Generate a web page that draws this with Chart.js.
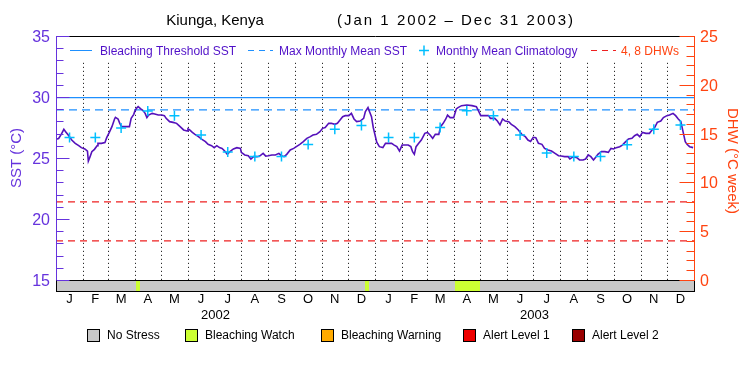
<!DOCTYPE html>
<html>
<head>
<meta charset="utf-8">
<title>Kiunga, Kenya - SST and DHW</title>
<script src="https://cdn.jsdelivr.net/npm/chart.js@4.4.1/dist/chart.umd.min.js"></script>
<style>
  html, body { margin: 0; padding: 0; background: #fff; }
  canvas { display: block; }
</style>
</head>
<body>
<canvas id="sstChart" width="750" height="375"></canvas>
<script>
// --- data ---
// day 0 = Jan 1 2002, day 730 = Jan 1 2004
const sstDays = [
  0, 3, 6, 9, 11, 14, 18, 22, 26, 29, 33, 36, 37, 39, 41, 44, 47, 48, 52, 56,
  58, 61, 64, 67, 68, 71, 73, 75, 79, 84, 86, 89, 90, 92, 94, 97, 99, 102, 104, 106,
  110, 113, 117, 121, 124, 126, 130, 134, 138, 142, 146, 150, 151, 153, 156, 159, 163, 167, 171, 174,
  178, 181, 184, 187, 190, 193, 196, 199, 203, 207, 211, 212, 216, 220, 223, 226, 230, 233, 237, 240,
  243, 247, 251, 255, 258, 261, 264, 268, 272, 275, 279, 283, 287, 291, 294, 298, 302, 305, 308, 312,
  315, 319, 322, 325, 328, 331, 335, 338, 341, 344, 348, 352, 354, 357, 359, 361, 363, 365, 367, 370,
  374, 377, 380, 384, 387, 390, 393, 396, 399, 403, 406, 408, 410, 412, 415, 418, 422, 425, 428, 431,
  434, 438, 440, 443, 446, 448, 451, 455, 458, 460, 464, 470, 476, 481, 483, 486, 491, 495, 497, 502,
  505, 508, 511, 514, 518, 521, 525, 529, 533, 537, 540, 543, 546, 549, 552, 556, 559, 563, 567, 571,
  575, 578, 582, 586, 588, 592, 596, 599, 603, 606, 609, 612, 615, 618, 620, 624, 628, 632, 635, 638,
  641, 645, 648, 651, 655, 659, 662, 665, 668, 671, 675, 679, 682, 685, 688, 692, 695, 699, 702, 706,
  709, 712, 715, 717, 720, 722, 725, 729
];
const sstValues = [
  26.53, 26.6, 26.94, 27.35, 27.16, 26.88, 26.47, 26.2, 26.01, 25.85, 25.74, 25.57, 24.75, 25.11, 25.52, 25.71, 26.01, 26.2, 26.2, 26.26,
  26.67, 27.1, 27.57, 28.2, 28.33, 28.2, 27.84, 27.57, 27.57, 27.57, 28.25, 28.58, 28.8, 29.07, 29.21, 29.02, 28.93, 28.66, 28.31, 28.52,
  28.66, 28.61, 28.52, 28.52, 28.47, 28.25, 27.98, 27.92, 27.84, 27.57, 27.3, 27.21, 27.38, 27.3, 27.1, 26.94, 26.75, 26.53, 26.34, 26.12,
  26.01, 25.85, 26.01, 25.85, 25.79, 25.57, 25.3, 25.52, 25.74, 25.85, 25.79, 25.46, 25.25, 25.19, 24.92, 25.11, 25.11, 25.16, 25.38, 25.16,
  25.19, 25.25, 25.25, 25.38, 25.19, 25.11, 25.3, 25.66, 25.79, 25.93, 26.12, 26.34, 26.61, 26.75, 26.88, 26.94, 27.16, 27.43, 27.49, 27.84,
  27.84, 27.76, 27.84, 28.11, 28.39, 28.47, 28.47, 28.66, 28.2, 27.98, 28.03, 28.25, 28.8, 29.13, 28.75, 28.39, 27.5, 26.9, 26.3, 25.93,
  25.85, 26.2, 26.2, 26.2, 26.06, 25.93, 25.57, 26.06, 26.06, 26.06, 25.93, 25.52, 25.3, 25.93, 26.2, 26.47, 27.02, 27.1, 26.88, 26.61,
  26.94, 26.94, 27.57, 27.84, 28.2, 28.52, 28.31, 28.31, 29.02, 29.13, 29.29, 29.34, 29.29, 29.21, 28.93, 28.47, 28.47, 28.47, 28.25, 28.25,
  28.03, 27.71, 28.2, 28.03, 27.98, 27.76, 27.57, 27.3, 26.94, 26.75, 26.47, 26.36, 26.7, 26.67, 26.2, 26.12, 25.79, 25.66, 25.57, 25.38,
  25.19, 25.16, 25.11, 25.11, 24.92, 25.11, 25.03, 24.84, 24.84, 24.92, 25.25, 25.11, 24.84, 25.11, 25.3, 25.52, 25.52, 25.46, 25.79, 25.74,
  25.85, 25.93, 26.06, 26.28, 26.56, 26.61, 26.83, 26.94, 26.75, 27.1, 27.02, 27.02, 27.3, 27.49, 27.92, 28.03, 28.31, 28.47, 28.52, 28.66,
  28.47, 28.2, 27.98, 27.3, 26.34, 26.12, 25.93, 25.85
];
// monthly mean climatology, Jan 2002 .. Dec 2003
const climValues = [
  26.68, 26.68, 27.45, 28.86, 28.47, 26.89, 25.5, 25.13, 25.13, 26.1, 27.35, 27.66,
  26.68, 26.68, 27.5, 28.88, 28.47, 26.89, 25.42, 25.12, 25.12, 26.08, 27.35, 27.7
];
const bleachingThreshold = 29.95;
const maxMonthlyMean = 28.95;
const dhwLevels = [4, 8];

const monthStartDays = [0, 31, 59, 90, 120, 151, 181, 212, 243, 273, 304, 334,
                        365, 396, 424, 455, 485, 516, 546, 577, 608, 638, 669, 699, 730];
const monthLetters = ['J', 'F', 'M', 'A', 'M', 'J', 'J', 'A', 'S', 'O', 'N', 'D'];
const yearLabels = ['2002', '2003'];

const stressNames = ['No Stress', 'Bleaching Watch', 'Bleaching Warning', 'Alert Level 1', 'Alert Level 2'];
const stressColors = ['#c8c8c8', '#ccff33', '#ffaa00', '#ee0000', '#990000'];
// [start day, end day, stress level index]
const stressPeriods = [[0, 730, 0], [92, 96, 1], [354, 358, 1], [456, 485, 1]];

// --- colours ---
const SST_AXIS = '#6633dd';
const SST_LINE = '#5511bb';
const DHW_AXIS = '#ff4411';
const BLUE = '#1e90ff';
const CYAN = '#00bfff';
const RED = '#ee2020';
const FONT = '"Liberation Sans", Arial, sans-serif';

const midMonth = monthStartDays.slice(0, -1).map((d, i) => (d + monthStartDays[i + 1]) / 2);

// --- decorations drawn with the chart scales ---
const chartDecor = {
  id: 'chartDecor',
  beforeDatasetsDraw(chart) {
    const { ctx, chartArea: a, scales: { x, y } } = chart;
    ctx.save();
    ctx.strokeStyle = '#000';
    ctx.lineWidth = 1;
    ctx.setLineDash([1, 3]);
    const top = y.getPixelForValue(32.8);
    monthStartDays.slice(1, -1).forEach(d => {
      const px = Math.round(x.getPixelForValue(d)) + 0.5;
      ctx.beginPath();
      ctx.moveTo(px, top);
      ctx.lineTo(px, a.bottom);
      ctx.stroke();
    });
    ctx.restore();
  },
  afterDraw(chart) {
    const { ctx, chartArea: a, scales: { x, y, y2 } } = chart;
    ctx.save();
    ctx.setLineDash([]);
    ctx.lineWidth = 1;

    const line = (x1, y1, x2, y2_) => {
      ctx.beginPath();
      ctx.moveTo(x1, y1);
      ctx.lineTo(x2, y2_);
      ctx.stroke();
    };

    // stress bar under the plot
    const barTop = Math.round(a.bottom);
    const barH = 11;
    stressPeriods.forEach(([d0, d1, lvl]) => {
      ctx.fillStyle = stressColors[lvl];
      const x0 = Math.round(x.getPixelForValue(d0));
      const x1 = Math.round(x.getPixelForValue(d1));
      ctx.fillRect(x0, barTop, x1 - x0, barH);
    });
    ctx.strokeStyle = '#000';
    ctx.strokeRect(Math.round(a.left) + 0.5, barTop + 0.5, Math.round(a.right - a.left), barH);

    // top border
    line(a.left, Math.round(a.top) + 0.5, a.right + 1, Math.round(a.top) + 0.5);

    // left axis (SST)
    ctx.strokeStyle = SST_AXIS;
    ctx.fillStyle = SST_AXIS;
    const lx = Math.round(a.left) + 0.5;
    line(lx, a.top, lx, a.bottom);
    ctx.font = '16px ' + FONT;
    ctx.textAlign = 'right';
    ctx.textBaseline = 'middle';
    for (let v = 15; v <= 35; v++) {
      const py = Math.round(y.getPixelForValue(v)) + 0.5;
      const major = v % 5 === 0;
      line(lx, py, lx + (major ? 13 : 7), py);
      if (major) ctx.fillText(String(v), a.left - 6, py + 1);
    }
    ctx.save();
    ctx.translate(17, 158);
    ctx.rotate(-Math.PI / 2);
    ctx.textAlign = 'center';
    ctx.font = '15px ' + FONT;
    ctx.fillText('SST (°C)', 0, 0);
    ctx.restore();

    // right axis (DHW)
    ctx.strokeStyle = DHW_AXIS;
    ctx.fillStyle = DHW_AXIS;
    const rx = Math.round(a.right) + 0.5;
    line(rx, a.top, rx, a.bottom + 1);
    ctx.textAlign = 'left';
    for (let v = 0; v <= 25; v++) {
      const py = Math.round(y2.getPixelForValue(v)) + 0.5;
      const major = v % 5 === 0;
      line(rx, py, rx - (major ? 15 : 8), py);
      if (major) ctx.fillText(String(v), a.right + 6, py + 1);
    }
    ctx.save();
    ctx.translate(732, 161);
    ctx.rotate(Math.PI / 2);
    ctx.textAlign = 'center';
    ctx.font = '15px ' + FONT;
    ctx.fillText('DHW (°C week)', 0, 0);
    ctx.restore();

    // month letters and years
    ctx.fillStyle = '#000';
    ctx.font = '13px ' + FONT;
    ctx.textAlign = 'center';
    midMonth.forEach((d, i) => {
      ctx.fillText(monthLetters[i % 12], x.getPixelForValue(d), barTop + 19);
    });
    yearLabels.forEach((yr, i) => {
      ctx.fillText(yr, x.getPixelForValue(monthStartDays[i * 12] + 182.5), barTop + 35);
    });

    // title
    ctx.font = '15px ' + FONT;
    ctx.fillText('Kiunga, Kenya', 215, 21);
    ctx.letterSpacing = '2px';
    ctx.fillText('(Jan 1 2002 – Dec 31 2003)', 456, 21);
    ctx.letterSpacing = '0px';

    // legend inside the plot
    const ly = 50.5;
    ctx.font = '12px ' + FONT;
    ctx.textAlign = 'left';
    ctx.strokeStyle = BLUE;
    line(70, ly, 92, ly);
    ctx.setLineDash([6, 5]);
    line(248, ly, 273, ly);
    ctx.strokeStyle = RED;
    line(591, ly, 616, ly);
    ctx.setLineDash([]);
    ctx.strokeStyle = CYAN;
    ctx.lineWidth = 1.5;
    line(424, ly - 5, 424, ly + 5);
    line(419, ly, 429, ly);
    ctx.lineWidth = 1;
    ctx.fillStyle = '#5010c8';
    ctx.fillText('Bleaching Threshold SST', 100, ly + 1);
    ctx.fillText('Max Monthly Mean SST', 279, ly + 1);
    ctx.fillText('Monthly Mean Climatology', 436, ly + 1);
    ctx.fillStyle = DHW_AXIS;
    ctx.fillText('4, 8 DHWs', 621, ly + 1);

    // stress legend under the chart
    const legendX = [87, 185, 321, 463, 572];
    ctx.fillStyle = '#000';
    stressNames.forEach((name, i) => {
      ctx.fillStyle = stressColors[i];
      ctx.fillRect(legendX[i], 329, 13, 13);
      ctx.strokeStyle = '#000';
      ctx.strokeRect(legendX[i] + 0.5, 329.5, 12, 12);
      ctx.fillStyle = '#000';
      ctx.fillText(name, legendX[i] + 20, 336);
    });

    ctx.restore();
  }
};

// --- datasets ---
const sstPoints = sstDays.map((d, i) => ({ x: d, y: sstValues[i] }));
const climPoints = climValues.map((v, i) => ({ x: midMonth[i], y: v }));
const flat = v => [{ x: 0, y: v }, { x: 730, y: v }];

const ctx = document.getElementById('sstChart').getContext('2d');
new Chart(ctx, {
  type: 'line',
  data: {
    datasets: [
      {
        label: 'Monthly Mean Climatology', data: climPoints, showLine: false,
        pointStyle: 'cross', pointRadius: 5, borderColor: CYAN, borderWidth: 1.5, yAxisID: 'y'
      },
      {
        label: 'SST', data: sstPoints, borderColor: SST_LINE, borderWidth: 1.6,
        pointRadius: 0, tension: 0, yAxisID: 'y'
      },
      {
        label: 'Bleaching Threshold SST', data: flat(bleachingThreshold), borderColor: BLUE,
        borderWidth: 1.2, pointRadius: 0, yAxisID: 'y'
      },
      {
        label: 'Max Monthly Mean SST', data: flat(maxMonthlyMean), borderColor: BLUE,
        borderWidth: 1.2, borderDash: [8, 5], pointRadius: 0, yAxisID: 'y'
      },
      ...dhwLevels.map(v => ({
        label: v + ' DHW', data: flat(v), borderColor: RED,
        borderWidth: 1.2, borderDash: [7, 5], pointRadius: 0, yAxisID: 'y2'
      }))
    ]
  },
  options: {
    responsive: false,
    animation: false,
    layout: { padding: { left: 56, top: 36, right: 56, bottom: 95 } },
    scales: {
      x: { type: 'linear', min: 0, max: 730, display: false },
      y: { min: 15, max: 35, display: false },
      y2: { min: 0, max: 25, display: false, position: 'right' }
    },
    plugins: { legend: { display: false }, tooltip: { enabled: false } }
  },
  plugins: [chartDecor]
});
</script>
</body>
</html>
